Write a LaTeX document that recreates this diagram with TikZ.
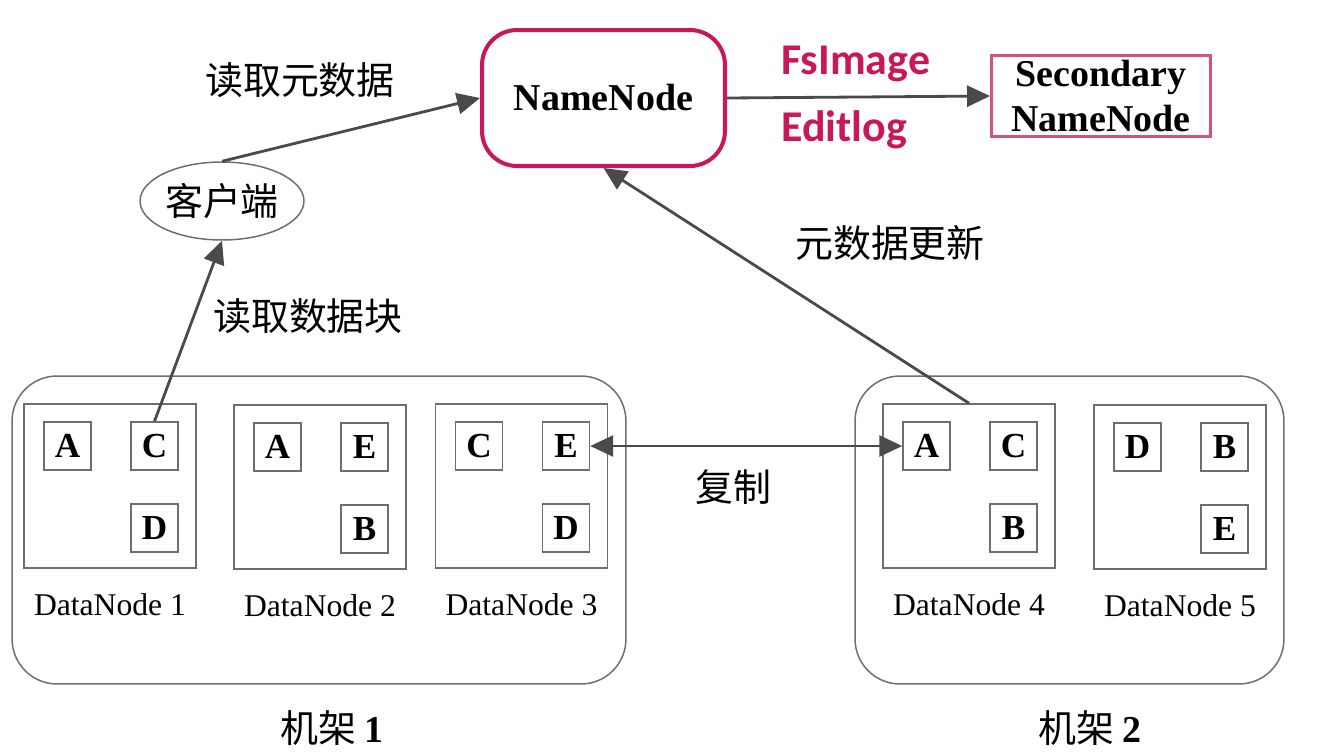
\documentclass[tikz,border=0pt]{standalone}
\usepackage{fontspec}
\setmainfont{Liberation Serif}
\newfontfamily\cjk{Noto Sans CJK SC}
\newfontfamily\logfont{Carlito}
\usetikzlibrary{arrows.meta, positioning, shapes.geometric}

\definecolor{nnred}{RGB}{200,24,90}
\definecolor{snnred}{RGB}{212,82,128}
\definecolor{linegray}{RGB}{74,74,74}
\definecolor{boxgray}{RGB}{110,110,110}

\begin{document}
\begin{tikzpicture}[x=0.02cm, y=-0.02cm,
    >={Triangle[length=0.46cm, width=0.42cm]},
    flow/.style={line width=1.6pt, draw=linegray, fill=linegray},
    namebox/.style={draw=nnred, line width=2.3pt, rounded corners=0.7cm, minimum width=4.86cm, minimum height=2.72cm, font=\fontsize{21.6}{26}\selectfont\bfseries},
    secbox/.style={draw=snnred, line width=1.7pt, minimum width=4.38cm, minimum height=1.62cm, inner sep=0pt, align=center, font=\fontsize{21.6}{26}\selectfont\bfseries},
    rackbox/.style={draw=boxgray, line width=0.85pt, rounded corners=0.9cm, minimum height=6.16cm},
    dnbox/.style={draw=boxgray, line width=0.85pt, minimum width=3.44cm, minimum height=3.28cm},
    blk/.style={draw=boxgray, line width=0.85pt, minimum width=0.94cm, minimum height=0.96cm, inner sep=0pt, font=\fontsize{20}{24}\selectfont\bfseries},
    dnlabel/.style={font=\fontsize{18}{22}\selectfont},
    cnlabel/.style={font=\cjk\fontsize{21.6}{26}\selectfont},
    loglabel/.style={text=nnred, inner sep=0pt, font=\logfont\bfseries\fontsize{25}{30}\selectfont}
]
\useasboundingbox (0,0) rectangle (1320,755);

% NameNode and Secondary NameNode
\node[namebox] (namenode) at (603.5,98) {NameNode};
\node[secbox] (secnn) at (1101,96) {Secondary\\NameNode};
\node[loglabel, anchor=west] (fsimage) at (781,64) {FsImage};
\node[loglabel, anchor=west] (editlog) at (781,130) {Editlog};

% client
\node[ellipse, draw=boxgray, line width=0.85pt, minimum width=3.28cm, minimum height=1.56cm, inner sep=0pt, cnlabel] (client) at (222,201) {客户端};

% racks
\node[rackbox, minimum width=12.28cm] (rack1) at (319,530) {};
\node[rackbox, minimum width=8.58cm] (rack2) at (1069.5,530) {};
\node[cnlabel] (rack1lbl) at (332,728) {机架 {\rmfamily\bfseries 1}};
\node[cnlabel] (rack2lbl) at (1090,728) {机架 {\rmfamily\bfseries 2}};

% DataNodes
\node[dnbox] (dn1) at (110,486) {};
\node[dnbox] (dn2) at (320,487) {};
\node[dnbox] (dn3) at (521.5,486) {};
\node[dnbox] (dn4) at (969,486) {};
\node[dnbox] (dn5) at (1180,487) {};
\node[dnlabel, below=0.37cm of dn1] (dn1lbl) {DataNode 1};
\node[dnlabel, below=0.37cm of dn2] (dn2lbl) {DataNode 2};
\node[dnlabel, below=0.37cm of dn3] (dn3lbl) {DataNode 3};
\node[dnlabel, below=0.37cm of dn4] (dn4lbl) {DataNode 4};
\node[dnlabel, below=0.37cm of dn5] (dn5lbl) {DataNode 5};

% blocks
\node[blk, below right=0.36cm and 0.4cm of dn1.north west] (dn1a) {A};
\node[blk, below right=0.36cm and 2.14cm of dn1.north west] (dn1c) {C};
\node[blk, below right=2.0cm and 2.14cm of dn1.north west] (dn1d) {D};
\node[blk, below right=0.36cm and 0.4cm of dn2.north west] (dn2a) {A};
\node[blk, below right=0.36cm and 2.14cm of dn2.north west] (dn2e) {E};
\node[blk, below right=2.0cm and 2.14cm of dn2.north west] (dn2b) {B};
\node[blk, below right=0.36cm and 0.4cm of dn3.north west] (dn3c) {C};
\node[blk, below right=0.36cm and 2.14cm of dn3.north west] (dn3e) {E};
\node[blk, below right=2.0cm and 2.14cm of dn3.north west] (dn3d) {D};
\node[blk, below right=0.36cm and 0.4cm of dn4.north west] (dn4a) {A};
\node[blk, below right=0.36cm and 2.14cm of dn4.north west] (dn4c) {C};
\node[blk, below right=2.0cm and 2.14cm of dn4.north west] (dn4b) {B};
\node[blk, below right=0.36cm and 0.4cm of dn5.north west] (dn5d) {D};
\node[blk, below right=0.36cm and 2.14cm of dn5.north west] (dn5b) {B};
\node[blk, below right=2.0cm and 2.14cm of dn5.north west] (dn5e) {E};

% connectors
\draw[flow, ->] (namenode.east) -- (secnn.west);
\draw[flow, ->] (client.north) -- (namenode.west);
\draw[flow, ->] (dn1c.north) -- (client.south);
\draw[flow, ->] (dn4.north) -- (namenode.south);
\draw[flow, <->] (dn3e.east) -- (dn4a.west);

% connector labels
\node[cnlabel] (readmeta) at (300,80) {读取元数据};
\node[cnlabel] (readblk) at (308,316) {读取数据块};
\node[cnlabel] (metaupd) at (890,243) {元数据更新};
\node[cnlabel] (copy) at (733,487) {复制};
\end{tikzpicture}
\end{document}
